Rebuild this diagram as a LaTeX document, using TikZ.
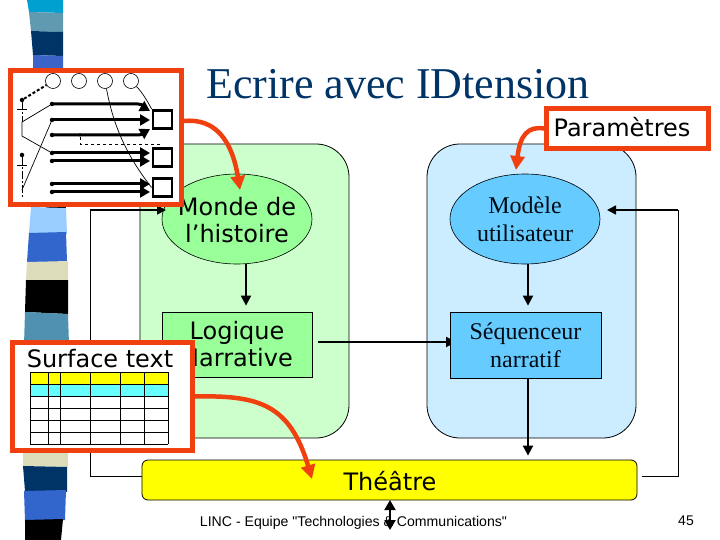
\documentclass[tikz,border=0pt]{standalone}
\usepackage{fontspec}
\setmainfont{Liberation Serif}
\newfontfamily\versa{DejaVu Sans}
\newfontfamily\arialf{Liberation Sans}
\usetikzlibrary{arrows.meta,shapes.geometric}
\definecolor{redo}{HTML}{F04010}
\definecolor{navy}{HTML}{003366}
\definecolor{gpanel}{HTML}{CCFFCC}
\definecolor{bpanel}{HTML}{CCECFF}
\definecolor{gnode}{HTML}{99FF99}
\definecolor{bnode}{HTML}{66CCFF}
\definecolor{cyant}{HTML}{66FFFF}
\definecolor{yel}{HTML}{FFFF00}
\tikzset{
  x=1pt,y=-1pt,
  panel/.style={draw=black,line width=0.8pt,rounded corners=33pt},
  vtext/.style={font=\versa\fontsize{24}{28}\selectfont,align=center,inner sep=0pt,text=black},
  stext/.style={font=\fontsize{24}{28}\selectfont,align=center,inner sep=0pt,text=black!80!navy},
  ell/.style={ellipse,draw=black,line width=0.6pt,minimum width=150pt,minimum height=90pt,inner sep=0pt},
  rectn/.style={rectangle,draw=black,line width=0.7pt,minimum width=150pt,minimum height=65pt,inner sep=0pt},
  blk/.style={line width=2pt,-{Triangle[length=10pt,width=10pt]}},
  thin/.style={line width=1pt},
  thinarr/.style={line width=1.6pt,-{Triangle[length=9pt,width=9pt]}},
  redbox/.style={draw=redo,fill=white,line width=5pt},
  redarr/.style={draw=redo,line width=4.5pt,-{Triangle[length=14pt,width=14pt]}},
  thick1/.style={line width=3pt,-{Triangle[length=10pt,width=11pt]}},
  wsq/.style={rectangle,draw=black,fill=white,line width=2.8pt,minimum width=19pt,minimum height=18pt,inner sep=0pt},
  circ/.style={circle,draw=black,line width=0.6pt,minimum size=15pt,inner sep=0pt},
  ddot/.style={circle,fill=black,minimum size=4.5pt,inner sep=0pt},
  tline/.style={line width=0.7pt},
}
\begin{document}
\begin{tikzpicture}
\useasboundingbox (0,0) rectangle (720,540);
\fill[white] (0,0) rectangle (720,540);
% decorative strip
\fill[fill={rgb,255:red,0;green,160;blue,208}] (27,0)--(63,0)--(63,13)--(29,12)--cycle;
\fill[fill={rgb,255:red,95;green,154;blue,176}] (29,12)--(63,13)--(63,32)--(31,31)--cycle;
\fill[fill=navy] (31,31)--(63,32)--(63,56)--(33,55)--cycle;
\fill[fill={rgb,255:red,60;green,99;blue,200}] (33,55)--(63,56)--(63,70)--(33,70)--cycle;
\fill[black] (46,204)--(66,204)--(66,210)--(46,210)--cycle;
\fill[fill={rgb,255:red,153;green,204;blue,255}] (31,207)--(66,208)--(67,234)--(29,233)--cycle;
\fill[fill={rgb,255:red,51;green,102;blue,204}] (29,233)--(66,232)--(67,262)--(27,262)--cycle;
\fill[fill={rgb,255:red,221;green,221;blue,187}] (27,262)--(68,261)--(68,281)--(26,280)--cycle;
\fill[black] (26,280)--(68,280)--(68,314)--(25,312)--cycle;
\fill[fill={rgb,255:red,80;green,144;blue,176}] (25,312)--(68,314)--(69,345)--(24,345)--cycle;
\fill[fill={rgb,255:red,221;green,221;blue,187}] (23,450)--(68,450)--(68,467)--(23,466)--cycle;
\fill[fill=navy] (23,466)--(67,467)--(67,492)--(25,491)--cycle;
\fill[fill={rgb,255:red,51;green,102;blue,204}] (24,491)--(66,490)--(65,520)--(25,521)--cycle;
\fill[black] (25,520)--(63,519)--(61,540)--(25,540)--cycle;
% title
\node[font=\fontsize{44}{48}\selectfont,text=navy,inner sep=0pt] (title) at (398,84) {Ecrire avec IDtension};
% panels
\node[panel,fill=gpanel,minimum width=209pt,minimum height=294pt,inner sep=0pt] (pg) at (244.5,291) {};
\node[panel,fill=bpanel,minimum width=209pt,minimum height=294pt,inner sep=0pt] (pb) at (531.5,291) {};
% nodes
\coordinate (c4) at (318,342);
\coordinate (c4e) at (456,342);
\draw[blk] (c4) -- (c4e);
\node[ell,fill=gnode] (mh) at (237,219) {};
\node[vtext] (mht) at (237,220) {Monde de\\[-0.5pt] l’histoire};
\node[rectn,fill=gnode] (lg) at (237,344.5) {};
\node[vtext] (lgt) at (237,344) {Logique\\[-0.5pt] Narrative};
\node[ell,fill=bnode] (mu) at (525,219) {};
\node[stext] (mut) at (525,219.5) {Modèle\\ utilisateur};
\node[rectn,fill=bnode,minimum width=151pt,minimum height=66pt] (sq) at (525.5,345) {};
\node[stext] (sqt) at (525.5,345.5) {Séquenceur\\ narratif};
\node[rectangle,rounded corners=6pt,draw=black,line width=0.8pt,fill=yel,minimum width=495pt,minimum height=40pt,inner sep=0pt] (th) at (389.5,480) {};
\node[vtext] (tht) at (390,481) {Théâtre};
% connectors
\coordinate (c1) at (246,264);
\coordinate (c2) at (528,264);
\coordinate (c3) at (528,378);
\coordinate (c5) at (642,476);
\coordinate (c6) at (678,476);
\coordinate (c7) at (678,210);
\coordinate (c8) at (607,210);
\coordinate (c9) at (142,476);
\coordinate (c10) at (90,476);
\coordinate (c11) at (90,210);
\coordinate (c12) at (166,210);
\draw[blk,shorten >=6pt] (c1) -- (c1 |- lg.north);
\draw[blk,shorten >=6pt] (c2) -- (c2 |- sq.north);
\draw[blk,shorten >=4pt] (c3) -- (c3 |- th.north);
\draw[thin] (c5) -- (c6) -- (c7);
\draw[thinarr] (c7) -- (c8);
\draw[thin] (c9) -- (c10) -- (c11);
\draw[thinarr] (c11) -- (c12);
% box 1
\node[redbox,rectangle,minimum width=171pt,minimum height=134pt,inner sep=0pt] (b1) at (96,137.5) {};
\foreach \n/\xx in {1/53,2/79,3/105,4/131} \node[circ] (o\n) at (\xx,81) {};
\node[wsq] (s1) at (162.5,119.5) {};
\node[wsq] (s2) at (162.5,157.5) {};
\node[wsq] (s3) at (162.5,187.5) {};
\foreach \n/\yy in {a/104,b/120,c/135,d/153,e/161,f/184,g/192} \node[ddot] (d\n) at (52,\yy) {};
\coordinate (ta) at (150,111);
\coordinate (tb) at (150,120);
\coordinate (tc) at (150,129);
\coordinate (td) at (150,153);
\coordinate (te) at (150,161);
\coordinate (tf) at (150,184);
\coordinate (tg) at (150,192);
\draw[thick1] (da.center) -- (138,104) to[out=0,in=150] (ta);
\draw[thick1] (db.center) -- (tb);
\draw[thick1] (dc.center) -- (138,135) to[out=0,in=-150] (tc);
\draw[thick1] (dd.center) -- (td);
\draw[thick1] (de.center) -- (te);
\draw[thick1] (df.center) -- (tf);
\draw[thick1] (dg.center) -- (tg);
\node[ddot] (v1) at (22,100) {};
\node[ddot] (v2) at (22,155) {};
\node[ddot,minimum size=3.5pt] (v3) at (80,135) {};
\coordinate (v1a) at (22,136);
\coordinate (v1b) at (22,122);
\coordinate (v2a) at (22,190);
\coordinate (v2b) at (22,197);
\coordinate (v3a) at (80,144);
\coordinate (v3b) at (162,144);
\draw[line width=2pt,dash pattern=on 3pt off 2pt] (v1) -- (o1);
\draw[tline,dash pattern=on 8pt off 2pt on 2pt off 2pt] (v1) -- (v1b);
\draw[tline] (v1b) -- (v1a) -- (dd);
\draw[tline] (v1b) -- (da);
\draw[tline] (17,109) -- (27,109);
\draw[tline] (17,165) -- (27,165);
\draw[tline,dash pattern=on 8pt off 2pt on 2pt off 2pt] (v2) -- (v2b);
\draw[tline] (v2a) -- (db);
\draw[tline,dashed] (v3) -- (v3a) -- (v3b);
\draw[tline] (o3) .. controls (112,118) and (122,150) .. (s3.west);
\draw[tline] (o4) .. controls (140,90) and (146,98) .. (s1.north west);
% arrows on red
\coordinate (r1) at (184,121);
\coordinate (r1e) at (240,190);
\draw[redarr] (r1) .. controls (215,118) and (232,140) .. (r1e);
\node[redbox,rectangle,minimum width=162pt,minimum height=40pt,inner sep=0pt] (b2) at (627.5,128.5) {};
\node[vtext] (b2t) at (622,127) {Paramètres};
\coordinate (r2e) at (516,170);
\draw[redarr] (b2.west) .. controls (528,126) and (520,135) .. (r2e);
% surface
\node[redbox,rectangle,minimum width=180pt,minimum height=108pt,inner sep=0pt] (b3) at (102.5,396.5) {};
\node[vtext] (b3t) at (100,358.5) {Surface text};
\fill[yel] (30,372) rectangle (168,384);
\fill[cyant] (30,384) rectangle (168,396);
\foreach \xx in {30,48,60,90,120,144,168} \draw[tline] (\xx,372) -- (\xx,444);
\foreach \yy in {372,384,396,408,420,432,444} \draw[tline] (30,\yy) -- (168,\yy);
\coordinate (r3e) at (312,479);
\draw[redarr] (b3.east) .. controls (260,395) and (290,405) .. (r3e);
% footer
\node[font=\arialf\fontsize{14.1}{16}\selectfont,inner sep=0pt] (foot) at (353.5,522.5) {LINC - Equipe "Technologies \& Communications"};
\node[font=\arialf\fontsize{14}{16}\selectfont,inner sep=0pt] (pg45) at (686,521) {45};
\coordinate (ba) at (390,500);
\coordinate (bb) at (390,530);
\draw[line width=2pt,{Triangle[length=10pt,width=11pt]}-{Triangle[length=10pt,width=11pt]}] (ba) -- (bb);
\end{tikzpicture}
\end{document}
